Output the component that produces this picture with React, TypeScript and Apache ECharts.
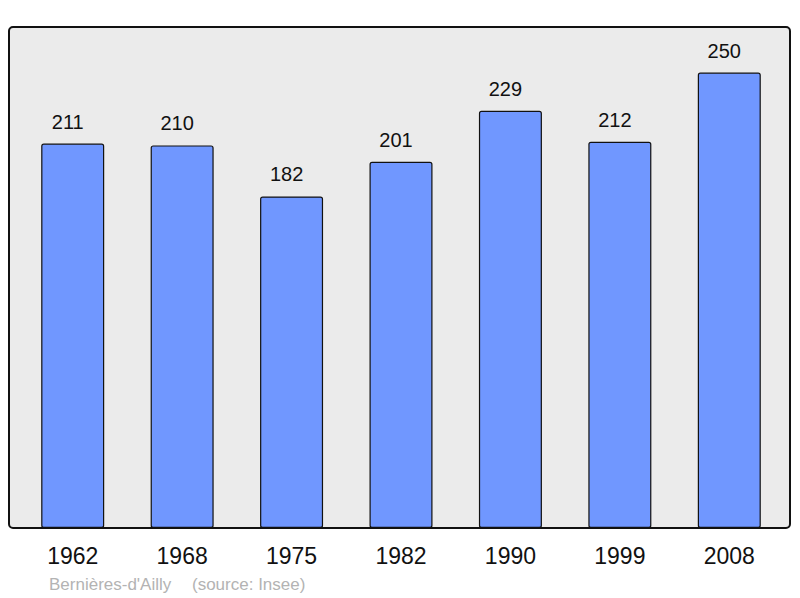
import React, { useEffect, useRef } from "react";
import * as echarts from "echarts";

const years = ["1962", "1968", "1975", "1982", "1990", "1999", "2008"];
const population = [211, 210, 182, 201, 229, 212, 250];
const footerPlace = "Bernières-d'Ailly";
const footerSource = "(source: Insee)";

export default function App() {
  const ref = useRef<HTMLDivElement>(null);
  useEffect(() => {
    const chart = echarts.init(ref.current!, null, { renderer: "svg" });
    const font = "'Liberation Sans', Arial, sans-serif";
    chart.setOption({
      animation: false,
      backgroundColor: "#ffffff",
      graphic: [
        {
          type: "rect",
          z: -10,
          shape: { x: 9, y: 27, width: 781, height: 501, r: 4 },
          style: { fill: "#ebebeb", stroke: "#111111", lineWidth: 2 },
        },
        {
          type: "text",
          x: 49,
          y: 584,
          style: { text: footerPlace, fill: "#b3b3b3", font: "17px " + font, textVerticalAlign: "middle" },
        },
        {
          type: "text",
          x: 192,
          y: 584,
          style: { text: footerSource, fill: "#b3b3b3", font: "17px " + font, textVerticalAlign: "middle" },
        },
      ],
      grid: { left: 18, right: 16, top: 27, bottom: 70 },
      xAxis: {
        type: "category",
        data: years,
        axisLine: { show: false },
        axisTick: { show: false },
        axisLabel: { color: "#111111", fontSize: 23, fontFamily: font, margin: 16 },
      },
      yAxis: { type: "value", min: 0, max: 275, show: false, splitLine: { show: false } },
      series: [
        {
          type: "bar",
          data: population,
          barWidth: 63,
          itemStyle: { color: "#7097ff", borderColor: "#111111", borderWidth: 1.2, borderRadius: 2 },
          label: {
            show: true,
            position: "top",
            distance: 12,
            offset: [-5, 0],
            color: "#111111",
            fontSize: 20,
            fontFamily: font,
          },
        },
      ],
    });
    return () => chart.dispose();
  }, []);
  return <div ref={ref} style={{ position: "fixed", left: 0, top: 0, width: 800, height: 598 }} />;
}
